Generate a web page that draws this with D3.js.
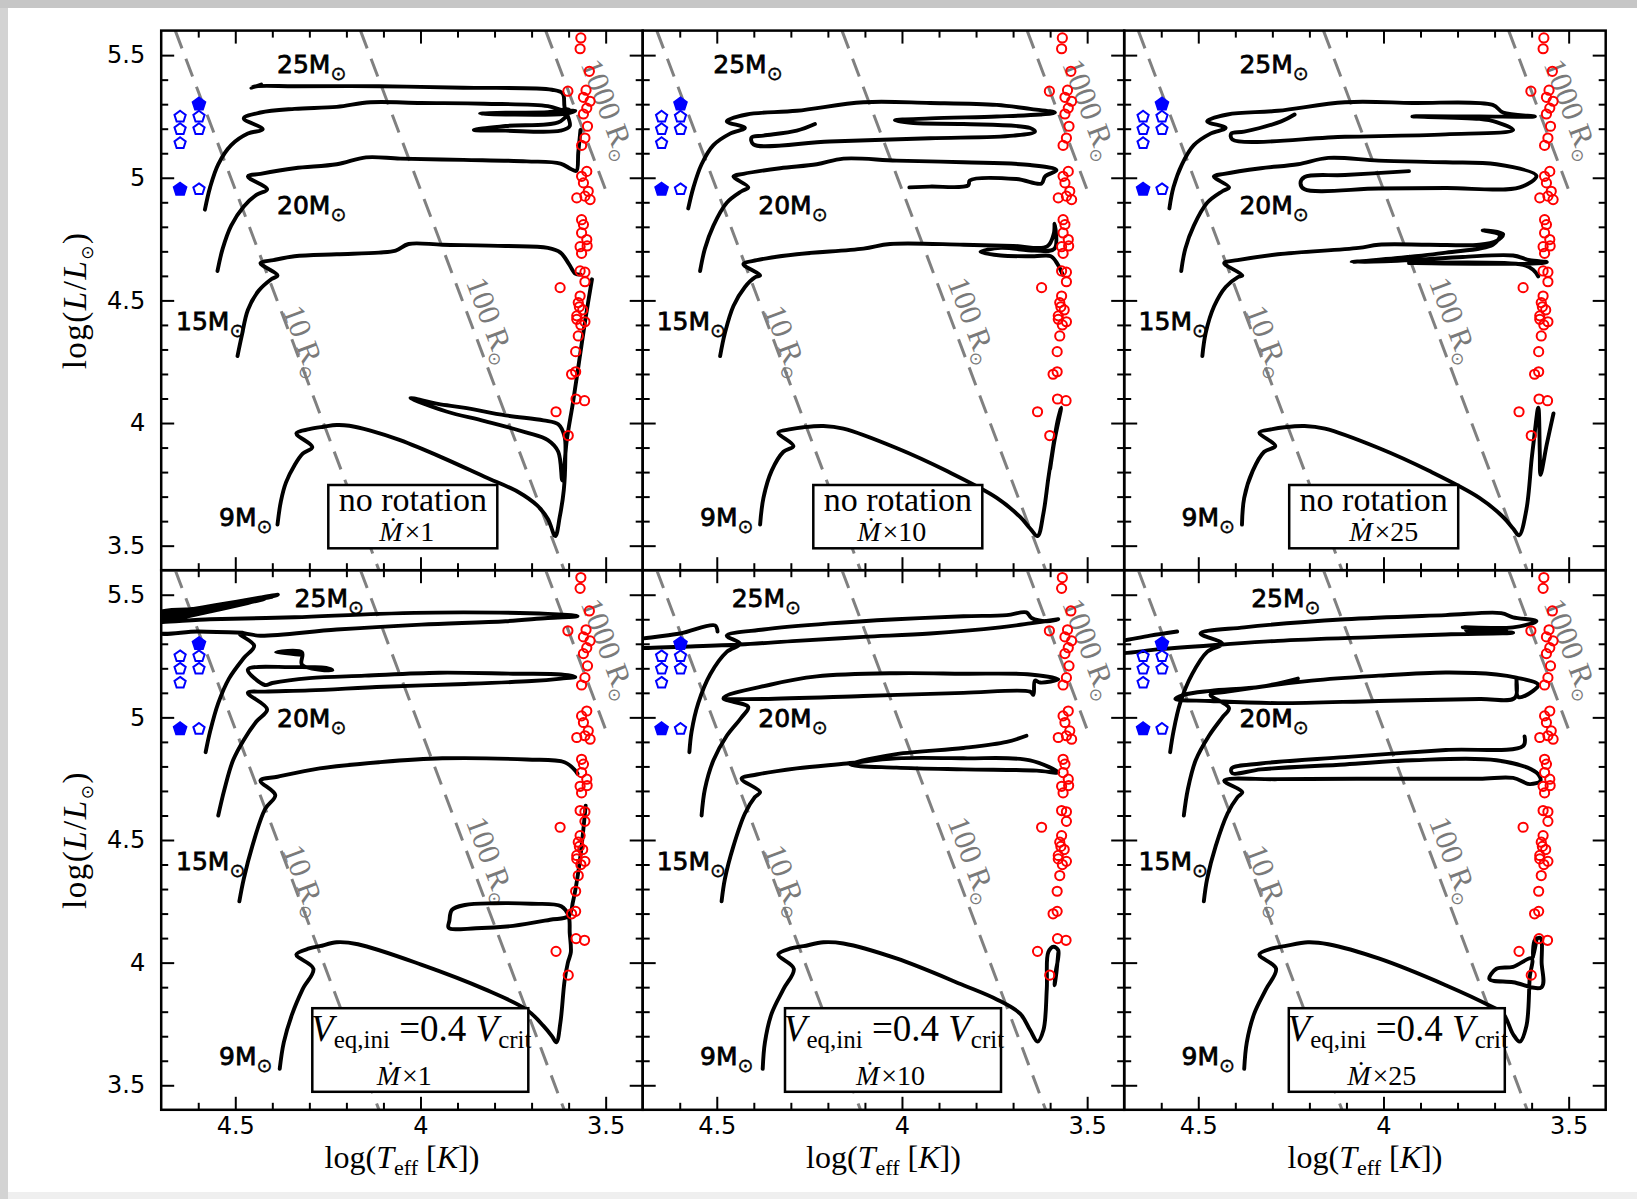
<!DOCTYPE html>
<html>
<head>
<meta charset="utf-8">
<script src="https://cdn.jsdelivr.net/npm/d3@7"></script>
<style>
  body { margin: 0; background: #fff; }
  svg { display: block; }
</style>
</head>
<body>
<svg id="chart" width="1637" height="1199"></svg>
<script>
// ---- data: evolutionary tracks, [log Teff, log L] ----
// no rotation, Mdot x1
const nr1_9 = [[4.386,3.586],[4.377,3.680],[4.363,3.758],[4.340,3.828],[4.318,3.875],[4.292,3.902],[4.335,3.958],[4.300,3.975],[4.261,3.985],[4.226,3.992],[4.192,3.989],[4.135,3.969],[4.055,3.930],[3.941,3.859],[3.827,3.781],[3.736,3.719],[3.685,3.664],[3.656,3.609],[3.636,3.539],[3.624,3.617],[3.613,3.727],[3.609,3.852],[3.611,3.945],[3.628,3.995],[3.668,4.011],[3.770,4.031],[3.884,4.063],[3.953,4.078],[4.027,4.102],[3.930,4.047],[3.827,4.008],[3.713,3.961],[3.656,3.930],[3.628,3.883],[3.617,3.766],[3.605,3.930],[3.588,4.086],[3.571,4.258],[3.554,4.430],[3.537,4.586]];
const nr1_15 = [[4.494,4.273],[4.483,4.352],[4.466,4.461],[4.437,4.539],[4.403,4.586],[4.386,4.602],[4.432,4.652],[4.397,4.664],[4.340,4.680],[4.226,4.688],[4.112,4.695],[4.067,4.703],[4.032,4.730],[3.941,4.727],[3.770,4.722],[3.656,4.714],[3.622,4.695],[3.599,4.648],[3.582,4.609],[3.567,4.605]];
const nr1_20 = [[4.548,4.620],[4.534,4.711],[4.511,4.805],[4.477,4.883],[4.443,4.930],[4.414,4.953],[4.466,5.005],[4.432,5.016],[4.340,5.039],[4.226,5.055],[4.147,5.083],[4.055,5.078],[3.884,5.073],[3.713,5.067],[3.622,5.058],[3.594,5.036],[3.579,5.028],[3.574,5.102],[3.568,5.195]];
const nr1_25 = [[4.582,4.870],[4.568,4.961],[4.546,5.055],[4.511,5.133],[4.466,5.180],[4.426,5.198],[4.477,5.242],[4.432,5.266],[4.340,5.281],[4.226,5.289],[4.135,5.308],[3.998,5.305],[3.827,5.302],[3.656,5.292],[3.611,5.273],[3.582,5.273],[3.611,5.261],[3.770,5.258],[3.839,5.261],[3.770,5.265],[3.656,5.267],[3.599,5.277],[3.622,5.230],[3.770,5.211],[3.856,5.195],[3.770,5.192],[3.622,5.192],[3.597,5.211],[3.611,5.289],[3.616,5.344],[3.645,5.359],[3.884,5.367],[4.112,5.373],[4.340,5.373],[4.443,5.373],[4.457,5.367],[4.430,5.380]];
// no rotation, Mdot x10
const nr10_9 = [[4.383,3.586],[4.374,3.695],[4.352,3.805],[4.320,3.883],[4.293,3.906],[4.334,3.961],[4.300,3.975],[4.266,3.983],[4.212,3.988],[4.158,3.977],[4.015,3.898],[3.880,3.805],[3.744,3.695],[3.681,3.617],[3.654,3.570],[3.634,3.539],[3.618,3.633],[3.605,3.773],[3.594,3.883],[3.580,4.008],[3.570,4.063],[3.588,3.930],[3.600,3.813],[3.583,3.977],[3.572,4.055]];
const nr10_15 = [[4.491,4.273],[4.478,4.367],[4.455,4.477],[4.424,4.555],[4.397,4.594],[4.383,4.602],[4.428,4.648],[4.392,4.664],[4.284,4.688],[4.104,4.711],[4.032,4.730],[3.834,4.727],[3.699,4.722],[3.608,4.720],[3.590,4.773],[3.588,4.813],[3.588,4.711],[3.643,4.703],[3.733,4.714],[3.788,4.698],[3.733,4.683],[3.643,4.680],[3.598,4.680],[3.580,4.648],[3.566,4.605]];
const nr10_20 = [[4.545,4.620],[4.532,4.711],[4.509,4.805],[4.473,4.898],[4.433,4.945],[4.415,4.961],[4.455,5.005],[4.428,5.016],[4.329,5.039],[4.230,5.055],[4.158,5.078],[4.015,5.070],[3.834,5.063],[3.654,5.052],[3.583,5.031],[3.614,5.005],[3.623,4.977],[3.691,4.995],[3.817,4.989],[3.821,4.969],[3.925,4.964],[3.980,4.961]];
const nr10_25 = [[4.577,4.875],[4.563,4.961],[4.541,5.055],[4.509,5.133],[4.464,5.180],[4.424,5.203],[4.473,5.230],[4.419,5.258],[4.284,5.273],[4.104,5.308],[3.924,5.305],[3.744,5.297],[3.654,5.281],[3.587,5.266],[3.627,5.258],[3.744,5.250],[3.924,5.242],[4.019,5.234],[3.969,5.223],[3.834,5.219],[3.654,5.203],[3.641,5.188],[3.699,5.172],[3.924,5.161],[4.195,5.148],[4.401,5.136],[4.406,5.164],[4.374,5.172],[4.284,5.192],[4.235,5.219]];
// no rotation, Mdot x25
const nr25_9 = [[4.382,3.586],[4.376,3.695],[4.353,3.805],[4.322,3.883],[4.292,3.906],[4.335,3.961],[4.300,3.975],[4.267,3.983],[4.213,3.988],[4.158,3.977],[4.013,3.898],[3.877,3.805],[3.741,3.695],[3.677,3.617],[3.650,3.570],[3.634,3.542],[3.614,3.648],[3.600,3.852],[3.594,3.930],[3.582,4.063],[3.578,3.883],[3.576,3.789],[3.559,3.914],[3.541,4.039]];
const nr25_15 = [[4.489,4.273],[4.480,4.367],[4.457,4.477],[4.426,4.555],[4.394,4.594],[4.381,4.602],[4.430,4.652],[4.394,4.664],[4.285,4.688],[4.067,4.714],[4.013,4.727],[3.877,4.727],[3.741,4.727],[3.695,4.742],[3.677,4.770],[3.732,4.786],[3.686,4.766],[3.705,4.727],[3.831,4.695],[3.968,4.672],[4.086,4.656],[3.922,4.664],[3.786,4.677],[3.650,4.683],[3.605,4.664],[3.559,4.656],[3.600,4.650],[3.931,4.652],[3.623,4.645],[3.596,4.625],[3.582,4.598]];
const nr25_20 = [[4.546,4.620],[4.535,4.711],[4.512,4.805],[4.476,4.898],[4.435,4.945],[4.417,4.961],[4.458,5.005],[4.430,5.016],[4.331,5.039],[4.231,5.055],[4.149,5.081],[4.013,5.070],[3.832,5.063],[3.695,5.055],[3.587,5.008],[3.632,4.961],[3.832,4.958],[4.013,4.956],[4.213,4.953],[4.224,4.977],[4.213,5.003],[4.104,5.011],[3.931,5.027]];
const nr25_25 = [[4.578,4.875],[4.567,4.961],[4.544,5.055],[4.512,5.133],[4.467,5.180],[4.426,5.203],[4.476,5.230],[4.421,5.258],[4.285,5.273],[4.104,5.308],[3.922,5.305],[3.705,5.297],[3.677,5.266],[3.591,5.250],[3.741,5.250],[3.922,5.250],[3.741,5.240],[3.695,5.227],[3.650,5.195],[3.832,5.177],[4.104,5.167],[4.408,5.156],[4.411,5.180],[4.376,5.188],[4.276,5.230],[4.240,5.258]];
// Veq,ini = 0.4 Vcrit, Mdot x1
const r1_9 = [[4.380,3.567],[4.369,3.675],[4.346,3.792],[4.318,3.892],[4.289,3.975],[4.335,4.033],[4.300,4.058],[4.272,4.067],[4.226,4.083],[4.169,4.075],[3.998,3.992],[3.827,3.892],[3.713,3.808],[3.668,3.742],[3.645,3.700],[3.633,3.675],[3.622,3.758],[3.611,3.925],[3.602,4.000],[3.594,4.042],[3.597,4.120],[3.600,4.190],[3.620,4.230],[3.700,4.240],[3.800,4.242],[3.880,4.235],[3.915,4.215],[3.922,4.170],[3.924,4.142],[3.850,4.140],[3.750,4.150],[3.650,4.175],[3.600,4.190],[3.588,4.250],[3.571,4.400],[3.554,4.640]];
const r1_15 = [[4.489,4.250],[4.477,4.342],[4.454,4.475],[4.420,4.625],[4.392,4.683],[4.432,4.742],[4.386,4.758],[4.272,4.792],[4.112,4.817],[3.941,4.833],[3.713,4.828],[3.611,4.817],[3.582,4.783],[3.576,4.770]];
const r1_20 = [[4.546,4.600],[4.529,4.708],[4.506,4.825],[4.477,4.908],[4.443,4.983],[4.414,5.033],[4.466,5.100],[4.420,5.105],[4.300,5.110],[4.100,5.125],[3.900,5.135],[3.700,5.148],[3.620,5.158],[3.582,5.165],[3.620,5.175],[3.750,5.178],[3.950,5.182],[4.150,5.170],[4.300,5.160],[4.400,5.140],[4.420,5.132],[4.466,5.195],[4.350,5.205],[4.250,5.200],[4.238,5.192],[4.320,5.215],[4.320,5.265],[4.390,5.265],[4.320,5.255]];
const r1_25 = [[4.580,4.858],[4.568,4.942],[4.546,5.058],[4.517,5.158],[4.477,5.242],[4.449,5.292],[4.489,5.342],[4.432,5.333],[4.226,5.358],[3.998,5.378],[3.770,5.392],[3.656,5.405],[3.576,5.412],[3.656,5.422],[3.884,5.428],[4.112,5.422],[4.340,5.408],[4.568,5.400],[4.720,5.390],[4.400,5.492],[4.720,5.402],[4.385,5.500],[4.720,5.382],[4.420,5.484],[4.720,5.412],[4.395,5.497],[4.720,5.395],[4.560,5.435],[4.720,5.420],[4.720,5.350],[4.600,5.350],[4.480,5.345]];
// Veq,ini = 0.4 Vcrit, Mdot x10
const r10_9 = [[4.376,3.567],[4.370,3.675],[4.352,3.792],[4.320,3.892],[4.292,3.975],[4.334,4.033],[4.300,4.058],[4.266,4.067],[4.212,4.083],[4.158,4.078],[4.015,4.017],[3.834,3.908],[3.744,3.850],[3.681,3.792],[3.654,3.725],[3.634,3.678],[3.618,3.725],[3.609,3.892],[3.605,4.042],[3.591,4.065],[3.578,4.050],[3.585,3.960],[3.588,3.908],[3.583,3.960],[3.578,4.040]];
const r10_15 = [[4.487,4.250],[4.478,4.342],[4.455,4.475],[4.424,4.608],[4.397,4.675],[4.383,4.695],[4.433,4.750],[4.392,4.767],[4.284,4.792],[4.149,4.812],[4.015,4.833],[3.834,4.833],[3.654,4.825],[3.578,4.775],[3.636,4.783],[3.834,4.788],[4.015,4.795],[4.140,4.808],[4.015,4.850],[3.834,4.875],[3.717,4.900],[3.664,4.925]];
const r10_20 = [[4.541,4.600],[4.532,4.708],[4.509,4.825],[4.473,4.925],[4.433,5.000],[4.415,5.042],[4.482,5.078],[4.356,5.133],[4.230,5.167],[4.015,5.180],[3.834,5.178],[3.654,5.175],[3.578,5.155],[3.627,5.142],[3.641,5.150],[3.645,5.092],[3.654,5.105],[3.834,5.100],[4.104,5.087],[4.374,5.075],[4.478,5.075]];
const r10_25 = [[4.574,4.858],[4.568,4.942],[4.550,5.058],[4.518,5.175],[4.473,5.267],[4.437,5.300],[4.473,5.333],[4.374,5.358],[4.195,5.383],[4.015,5.400],[3.834,5.412],[3.717,5.417],[3.664,5.428],[3.650,5.405],[3.609,5.392],[3.578,5.400],[3.654,5.383],[3.735,5.367],[3.924,5.342],[4.104,5.328],[4.284,5.312],[4.437,5.297],[4.599,5.288],[4.698,5.283],[4.725,5.285],[4.725,5.317],[4.698,5.322],[4.599,5.342],[4.505,5.375],[4.498,5.350]];
// Veq,ini = 0.4 Vcrit, Mdot x25
const r25_9 = [[4.376,3.567],[4.369,3.675],[4.349,3.792],[4.317,3.892],[4.290,3.975],[4.335,4.033],[4.300,4.058],[4.267,4.067],[4.204,4.083],[4.149,4.075],[4.013,4.017],[3.832,3.908],[3.714,3.825],[3.677,3.792],[3.650,3.708],[3.632,3.678],[3.614,3.742],[3.605,3.942],[3.600,4.017],[3.650,3.983],[3.695,3.975],[3.714,3.933],[3.650,3.920],[3.573,3.900],[3.573,4.000],[3.576,4.100],[3.591,4.092],[3.596,4.017],[3.586,4.100]];
const r25_15 = [[4.485,4.250],[4.476,4.342],[4.453,4.475],[4.421,4.608],[4.394,4.675],[4.381,4.695],[4.430,4.742],[4.285,4.748],[4.013,4.750],[3.741,4.750],[3.650,4.753],[3.605,4.728],[3.576,4.742],[3.587,4.775],[3.695,4.825],[3.922,4.825],[4.104,4.808],[4.331,4.788],[4.408,4.772],[4.410,4.792],[4.331,4.812],[4.104,4.838],[3.832,4.867],[3.623,4.883],[3.619,4.922]];
const r25_20 = [[4.539,4.600],[4.528,4.708],[4.507,4.825],[4.471,4.925],[4.435,5.000],[4.417,5.038],[4.467,5.092],[4.421,5.105],[4.194,5.150],[4.013,5.170],[3.832,5.183],[3.695,5.175],[3.641,5.162],[3.582,5.133],[3.596,5.108],[3.636,5.083],[3.641,5.160],[3.645,5.080],[3.741,5.075],[4.013,5.067],[4.285,5.058],[4.467,5.067],[4.562,5.075],[4.539,5.092],[4.467,5.108],[4.331,5.125],[4.231,5.158]];
const r25_25 = [[4.576,4.858],[4.567,4.942],[4.549,5.058],[4.517,5.175],[4.476,5.267],[4.435,5.300],[4.494,5.342],[4.376,5.367],[4.104,5.400],[3.832,5.417],[3.682,5.425],[3.650,5.408],[3.587,5.392],[3.650,5.367],[3.786,5.367],[3.668,5.358],[3.777,5.355],[3.650,5.345],[3.832,5.338],[4.013,5.328],[4.285,5.312],[4.435,5.297],[4.603,5.278],[4.703,5.262],[4.730,5.267],[4.730,5.308],[4.703,5.313],[4.630,5.333],[4.557,5.350]];

// observed red supergiants
const rsgTeff = [3.567,3.569,3.544,3.602,3.553,3.560,3.542,3.551,3.560,3.549,3.556,3.565,3.551,3.565,3.560,3.547,3.578,3.556,3.542,3.565,3.560,3.565,3.551,3.569,3.550,3.565,3.569,3.556,3.556,3.623,3.569,3.574,3.571,3.562,3.578,3.578,3.556,3.567,3.574,3.581,3.592,3.581,3.580,3.557,3.634,3.601];
const rsgLum = [5.570,5.526,5.434,5.353,5.357,5.328,5.312,5.284,5.260,5.210,5.162,5.132,5.026,5.006,4.979,4.945,4.918,4.925,4.911,4.829,4.809,4.775,4.748,4.719,4.722,4.692,4.620,4.615,4.576,4.552,4.518,4.491,4.474,4.461,4.437,4.423,4.413,4.400,4.355,4.291,4.199,4.209,4.098,4.091,4.046,3.949];
// observed blue supergiants
const bsgTeff = [4.598,4.649,4.598,4.649,4.598,4.649,4.649,4.598];
const bsgLum = [5.300,5.249,5.249,5.198,5.198,5.141,4.953,4.953];
const bsgFilled = [1,0,0,0,0,0,1,0];

// iso-radius lines
const radiusValues = ['10','100','1000'];
const radiusTopT = [4.662, 4.162, 3.662];
const radiusTopL = [5.6, 5.6, 5.6];
const radiusEndT = [4.112, 3.612, 3.500];
const radiusEndL = [3.4, 3.4, 4.95];

const masses = ['9', '15', '20', '25'];
const mdotFactors = ['1', '10', '25', '1', '10', '25'];
const rotating = [false, false, false, true, true, true];

const majorT = [4.5, 4.0, 3.5];
const majorTLabels = ['4.5', '4', '3.5'];
const minorT = [4.6, 4.4, 4.3, 4.2, 4.1, 3.9, 3.8, 3.7, 3.6];
const majorL = [3.5, 4.0, 4.5, 5.0, 5.5];
const majorLLabels = ['3.5', '4', '4.5', '5', '5.5'];
const minorL = [3.6, 3.7, 3.8, 3.9, 4.1, 4.2, 4.3, 4.4, 4.6, 4.7, 4.8, 4.9, 5.1, 5.2, 5.3, 5.4];

const panelTracks = [
  [nr1_9, nr1_15, nr1_20, nr1_25],
  [nr10_9, nr10_15, nr10_20, nr10_25],
  [nr25_9, nr25_15, nr25_20, nr25_25],
  [r1_9, r1_15, r1_20, r1_25],
  [r10_9, r10_15, r10_20, r10_25],
  [r25_9, r25_15, r25_20, r25_25]
];

// ---- layout ----
const W = 1637, H = 1199;
const panelW = 481.5, panelH = 539.6;
const left0 = 161.2, top0 = 30.6;
const serif = 'Liberation Serif, Times New Roman, serif';
const sans = 'DejaVu Sans, Verdana, sans-serif';
const sunFont = 'DejaVu Sans, sans-serif';

const boxLeft = [167.1, 170.6, 165.0, 151.1, 142.3, 164.6];
const line2Shift = [-6, -6, 10, -16, -2.5, -15];
// mass label x offsets (order 9, 15, 20, 25) and baselines per row
const massLabelX = [
  [57.8, 14.8, 115.8, 115.8],
  [57.3, 14.0, 115.6, 70.6],
  [57.4, 14.4, 115.2, 115.2],
  [57.8, 14.8, 115.8, 133.4],
  [57.3, 14.0, 115.6, 89.0],
  [57.4, 14.4, 115.2, 127.0]
];
const massLabelY = [[495.6, 299.4, 183.7, 42.1], [495.1, 299.5, 156.8, 36.7]];
// radius labels: luminosity of the label centre, horizontal shift from the line
const radiusLabelL = [4.335, 4.42, 5.28];
const radiusLabelDx = [13, 22, 34];

const x = d3.scaleLinear().domain([4.7, 3.4]).range([0, panelW]);
const y = d3.scaleLinear().domain([3.4, 5.6]).range([panelH, 0]);

const svg = d3.select('#chart');

// page background with the grey border of the screenshot
svg.append('rect').attr('width', W).attr('height', H).attr('fill', '#fff');
svg.append('rect').attr('x', 0).attr('y', 0).attr('width', W).attr('height', 8).attr('fill', '#c6c6c6');
svg.append('rect').attr('x', 0).attr('y', 8).attr('width', 8).attr('height', H - 8).attr('fill', '#d3d3d3');
svg.append('rect').attr('x', 8).attr('y', H - 7).attr('width', W - 8).attr('height', 7).attr('fill', '#efefef');

const trackLine = d3.line()
  .x(d => x(d[0]))
  .y(d => y(d[1]))
  .curve(d3.curveCatmullRom.alpha(0.5));

const pentagon = (r) => {
  const p = d3.path();
  for (let k = 0; k < 5; k++) {
    const a = -Math.PI / 2 + k * 2 * Math.PI / 5;
    if (k === 0) p.moveTo(r * Math.cos(a), r * Math.sin(a));
    else p.lineTo(r * Math.cos(a), r * Math.sin(a));
  }
  p.closePath();
  return p.toString();
};

const addAxis = (g, maker, values, size, transform, labels, padding) => {
  const ax = maker(maker === d3.axisLeft || maker === d3.axisRight ? y : x)
    .tickValues(values)
    .tickSizeInner(-size)
    .tickSizeOuter(0)
    .tickPadding(padding || 3)
    .tickFormat(labels ? (d, i) => labels[i] : '');
  const a = g.append('g').attr('transform', transform).call(ax);
  a.select('.domain').remove();
  a.selectAll('line').attr('stroke', '#000').attr('stroke-width', 2);
  a.selectAll('text').attr('font-family', sans).attr('font-size', 24).attr('fill', '#000');
  if (!labels) a.selectAll('text').remove();
  return a;
};

panelTracks.forEach((tracks, i) => {
  const col = i % 3;
  const row = Math.floor(i / 3);
  const g = svg.append('g')
    .attr('transform', `translate(${left0 + col * panelW},${top0 + row * panelH})`);

  g.append('clipPath').attr('id', 'clip' + i)
    .append('rect').attr('width', panelW).attr('height', panelH);
  const plot = g.append('g').attr('clip-path', `url(#clip${i})`);

  // dashed iso-radius lines
  radiusValues.forEach((r, k) => {
    const x1 = x(radiusTopT[k]), y1 = y(radiusTopL[k]);
    const x2 = x(radiusEndT[k]), y2 = y(radiusEndL[k]);
    plot.append('line')
      .attr('x1', x1).attr('y1', y1)
      .attr('x2', x2).attr('y2', y2)
      .attr('stroke', '#808080').attr('stroke-width', 3)
      .attr('stroke-dasharray', '19,11');

    const ang = Math.atan2(y2 - y1, x2 - x1);
    const py = y(radiusLabelL[k]);
    const px = x1 + (py - y1) / (y2 - y1) * (x2 - x1) + radiusLabelDx[k];
    const lbl = plot.append('text')
      .attr('transform', `translate(${px},${py}) rotate(${ang * 180 / Math.PI})`)
      .attr('text-anchor', 'middle').attr('dy', '0.35em')
      .attr('font-family', serif).attr('font-size', 31).attr('fill', '#7a7a7a');
    lbl.append('tspan').text(r + ' R');
    lbl.append('tspan').attr('font-family', sunFont).attr('font-size', 17).attr('dy', 6).text('\u2299');
  });

  // tracks
  tracks.forEach(tr => {
    plot.append('path')
      .attr('d', trackLine(tr))
      .attr('fill', 'none').attr('stroke', '#000')
      .attr('stroke-width', 3.9)
      .attr('stroke-linejoin', 'round').attr('stroke-linecap', 'round');
  });

  // red supergiants
  plot.selectAll('circle.rsg')
    .data(rsgTeff)
    .enter()
    .append('circle')
    .attr('class', 'rsg')
    .attr('cx', d => x(d))
    .attr('cy', (d, k) => y(rsgLum[k]))
    .attr('r', 4.6)
    .attr('fill', 'none').attr('stroke', '#ff0000').attr('stroke-width', 2);

  // blue supergiants
  plot.selectAll('path.bsg')
    .data(bsgTeff)
    .enter()
    .append('path')
    .attr('class', 'bsg')
    .attr('d', (d, k) => pentagon(bsgFilled[k] ? 6.6 : 5.9))
    .attr('transform', (d, k) => `translate(${x(d)},${y(bsgLum[k])})`)
    .attr('fill', (d, k) => bsgFilled[k] ? '#0000ff' : 'none')
    .attr('stroke', '#0000ff').attr('stroke-width', 2);

  // mass labels
  masses.forEach((m, k) => {
    const t = g.append('text')
      .attr('x', massLabelX[i][k]).attr('y', massLabelY[row][k])
      .attr('font-family', sans).attr('font-size', 25)
      .attr('fill', '#000').attr('stroke', '#000').attr('stroke-width', 0.8);
    t.append('tspan').text(m + 'M');
    t.append('tspan').attr('font-family', sunFont).attr('font-size', 19)
      .attr('stroke-width', 0.4).attr('dy', 7).text('\u2299');
  });

  // case box
  const bw = row === 0 ? 169 : 216;
  const by = row === 0 ? 454.4 : 438;
  const bh = row === 0 ? 63.3 : 83.6;
  const cx = boxLeft[i] + bw / 2;
  g.append('rect')
    .attr('x', boxLeft[i]).attr('y', by).attr('width', bw).attr('height', bh)
    .attr('fill', '#fff').attr('stroke', '#000').attr('stroke-width', 2.5);

  if (!rotating[i]) {
    g.append('text')
      .attr('x', cx).attr('y', 480.5)
      .attr('text-anchor', 'middle')
      .attr('font-family', serif).attr('font-size', 34)
      .text('no rotation');
  } else {
    const t = g.append('text')
      .attr('x', cx + 1).attr('y', 470.5)
      .attr('text-anchor', 'middle')
      .attr('font-family', serif).attr('font-size', 37);
    t.append('tspan').attr('font-style', 'italic').text('V');
    t.append('tspan').attr('font-size', 25).attr('dy', 7).text('eq,ini');
    t.append('tspan').attr('dy', -7).text(' =0.4 ');
    t.append('tspan').attr('font-style', 'italic').text('V');
    t.append('tspan').attr('font-size', 25).attr('dy', 7).text('crit');
  }
  const t2 = g.append('text')
    .attr('x', cx + line2Shift[i]).attr('y', row === 0 ? 510 : 514.5)
    .attr('text-anchor', 'middle')
    .attr('font-family', serif).attr('font-size', 28);
  t2.append('tspan').attr('font-style', 'italic').text('\u1E40');
  t2.append('tspan').attr('dx', 2).text('\u00D7' + mdotFactors[i]);

  // ticks on all four sides, pointing inwards
  addAxis(g, d3.axisBottom, majorT, 13, `translate(0,${panelH})`, row === 1 ? majorTLabels : null, 7);
  addAxis(g, d3.axisBottom, minorT, 7, `translate(0,${panelH})`, null);
  addAxis(g, d3.axisTop, majorT, 13, 'translate(0,0)', null);
  addAxis(g, d3.axisTop, minorT, 7, 'translate(0,0)', null);
  addAxis(g, d3.axisLeft, majorL, 13, 'translate(0,0)', col === 0 ? majorLLabels : null, 16);
  addAxis(g, d3.axisLeft, minorL, 7, 'translate(0,0)', null);
  addAxis(g, d3.axisRight, majorL, 13, `translate(${panelW},0)`, null);
  addAxis(g, d3.axisRight, minorL, 7, `translate(${panelW},0)`, null);

  g.append('rect')
    .attr('width', panelW).attr('height', panelH)
    .attr('fill', 'none').attr('stroke', '#000').attr('stroke-width', 2.5);

  // axis titles
  if (row === 1) {
    const xt = g.append('text')
      .attr('x', panelW / 2).attr('y', panelH + 58)
      .attr('text-anchor', 'middle')
      .attr('font-family', serif).attr('font-size', 32);
    xt.append('tspan').text('log(');
    xt.append('tspan').attr('font-style', 'italic').text('T');
    xt.append('tspan').attr('font-size', 22).attr('dy', 7).text('eff');
    xt.append('tspan').attr('dy', -7).text(' [');
    xt.append('tspan').attr('font-style', 'italic').text('K');
    xt.append('tspan').text('])');
  }
  if (col === 0) {
    const yt = g.append('text')
      .attr('transform', `translate(${86 - left0},${panelH / 2}) rotate(-90)`)
      .attr('text-anchor', 'middle')
      .attr('font-family', serif).attr('font-size', 33)
      .attr('letter-spacing', 1.5);
    yt.append('tspan').text('log(');
    yt.append('tspan').attr('font-style', 'italic').text('L');
    yt.append('tspan').text('/');
    yt.append('tspan').attr('font-style', 'italic').text('L');
    yt.append('tspan').attr('font-family', sunFont).attr('font-size', 17).attr('dy', 7).text('\u2299');
    yt.append('tspan').attr('dy', -7).text(')');
  }
});
</script>
</body>
</html>
